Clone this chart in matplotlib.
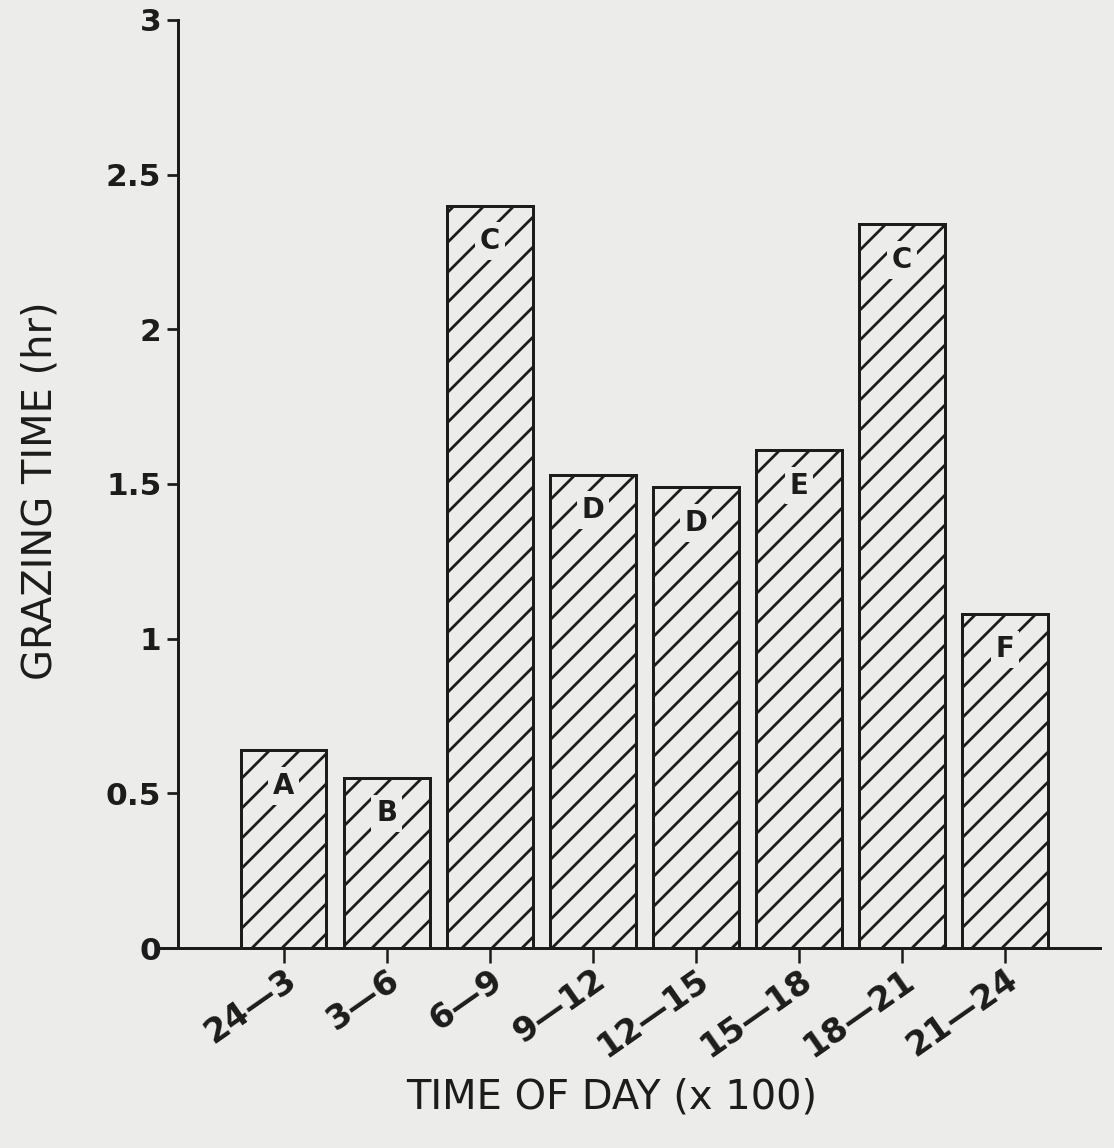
import numpy as np
import matplotlib
matplotlib.use("Agg")
import matplotlib.pyplot as plt

periods = ['24—3', '3—6', '6—9', '9—12', '12—15', '15—18', '18—21', '21—24']
grazing_hr = [0.64, 0.55, 2.40, 1.53, 1.49, 1.61, 2.34, 1.08]
groups = ['A', 'B', 'C', 'D', 'D', 'E', 'C', 'F']
yticks = [0, 0.5, 1, 1.5, 2, 2.5, 3]
ytick_labels = ['0', '0.5', '1', '1.5', '2', '2.5', '3']

bg = '#ececea'
ink = '#1c1c1c'
plt.rcParams['hatch.linewidth'] = 1.1
plt.rcParams['hatch.color'] = ink
plt.rcParams['font.family'] = 'DejaVu Sans'

fig = plt.figure(figsize=(1114 / 180, 1148 / 180), dpi=180, facecolor=bg)
ax = fig.add_axes([0.1418, 0.1742, 0.8456, 0.8084], facecolor=bg)

x = np.arange(len(periods))
ax.bar(x, grazing_hr, width=0.83, color=bg, edgecolor=ink, linewidth=1.2, hatch='//')

# group letters sit just under each bar top, hatching cleared behind them
for xi, v, g in zip(x, grazing_hr, groups):
    ax.text(xi, v - 0.115, g, ha='center', va='center', fontsize=11, fontweight='bold',
            color=ink, bbox=dict(facecolor=bg, edgecolor='none', pad=2.0))

ax.set_xlim(-1.22, 7.92)
ax.set_ylim(0, 3)
ax.spines['top'].set_visible(False)
ax.spines['right'].set_visible(False)
ax.spines['left'].set_position(('data', -1.03))
for s in ('left', 'bottom'):
    ax.spines[s].set_linewidth(1.2)
    ax.spines[s].set_color(ink)

ax.set_yticks(yticks)
ax.set_yticklabels(ytick_labels, fontsize=12.5, fontweight='bold', color=ink)
ax.tick_params(axis='y', direction='out', length=4.5, width=1.1, color=ink, pad=2)

ax.set_xticks(x)
ax.set_xticklabels(periods, rotation=35, ha='right', va='top', rotation_mode='anchor',
                   fontsize=13.5, fontweight='bold', color=ink)
ax.tick_params(axis='x', direction='out', length=6, width=1.0, color=ink, pad=0)

fig.text(0.549, 0.044, 'TIME OF DAY (x 100)', ha='center', va='center', fontsize=16, color=ink)
fig.text(0.036, 0.573, 'GRAZING TIME (hr)', ha='center', va='center', rotation=90,
         fontsize=16, color=ink)

fig.savefig('out.png', dpi=180, facecolor=bg)
